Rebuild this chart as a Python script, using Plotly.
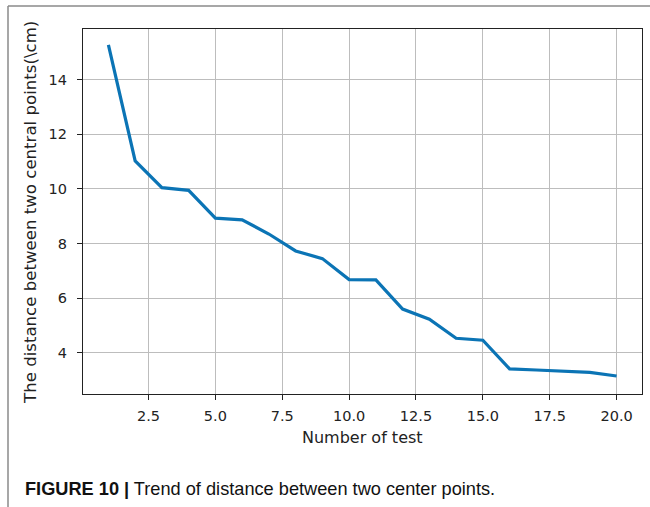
import plotly.graph_objects as go

tests = list(range(1, 21))
distance = [15.28, 11.03, 10.05, 9.95, 8.93, 8.87, 8.35, 7.73, 7.45, 6.68,
            6.67, 5.60, 5.23, 4.53, 4.46, 3.41, 3.37, 3.33, 3.28, 3.15]
x_ticks = [2.5, 5.0, 7.5, 10.0, 12.5, 15.0, 17.5, 20.0]
x_tick_labels = ["2.5", "5.0", "7.5", "10.0", "12.5", "15.0", "17.5", "20.0"]
y_ticks = [4, 6, 8, 10, 12, 14]
x_title = "Number of test"
y_title = "The distance between two central points(\\cm)"
caption = "<b>FIGURE 10 |</b> Trend of distance between two center points."

W, H = 650, 507
L, R, T, B = 83, 8, 29, 113
pw, ph = W - L - R, H - T - B


def px(x):
    return (x - L) / pw


def py(y):
    return (H - B - y) / ph


fig = go.Figure()
fig.add_trace(go.Scatter(x=tests, y=distance, mode="lines",
                         line=dict(color="#0b74b5", width=3.2), showlegend=False))

tick_font = dict(family="DejaVu Sans", size=14.5, color="#222")
title_font = dict(family="DejaVu Sans", size=16, color="#222")
fig.update_layout(
    width=W, height=H,
    margin=dict(l=L, r=R, t=T, b=B, autoexpand=False),
    paper_bgcolor="white", plot_bgcolor="white",
    xaxis=dict(range=[0.05, 20.95], tickvals=x_ticks, ticktext=x_tick_labels,
               showgrid=True, gridcolor="#bdbdbd", gridwidth=1,
               showline=True, linecolor="#222", linewidth=1.3, mirror=True,
               ticks="outside", ticklen=5, tickcolor="#222", tickfont=tick_font,
               ticklabelstandoff=3, zeroline=False, automargin=False),
    yaxis=dict(range=[2.49, 15.86], tickvals=y_ticks,
               showgrid=True, gridcolor="#bdbdbd", gridwidth=1,
               showline=True, linecolor="#222", linewidth=1.3, mirror=True,
               ticks="outside", ticklen=5, tickcolor="#222", tickfont=tick_font,
               ticklabelstandoff=7, zeroline=False, automargin=False),
)

# axis titles
fig.add_annotation(xref="paper", yref="paper", x=px(362), y=py(437),
                   xanchor="center", yanchor="middle", showarrow=False,
                   text=x_title, font=title_font)
fig.add_annotation(xref="paper", yref="paper", x=px(31), y=py(213),
                   xanchor="center", yanchor="middle", showarrow=False,
                   textangle=-90, text=y_title,
                   font=dict(family="DejaVu Sans", size=16.6, color="#222"))

# outer figure frame (top and left edges)
fig.add_shape(type="line", xref="paper", yref="paper", x0=px(8), x1=px(660),
              y0=py(6), y1=py(6), line=dict(color="#8a8a8a", width=1.5))
fig.add_shape(type="line", xref="paper", yref="paper", x0=px(8), x1=px(8),
              y0=py(6), y1=py(515), line=dict(color="#8a8a8a", width=1.5))

fig.add_annotation(xref="paper", yref="paper", x=px(23), y=py(489),
                   xanchor="left", yanchor="middle", showarrow=False,
                   text=caption,
                   font=dict(family="Liberation Sans", size=18.2, color="#111"))

fig.write_html("out.html", config={"displayModeBar": False},
               post_script="document.body.style.margin='0';document.body.style.overflow='hidden';")
